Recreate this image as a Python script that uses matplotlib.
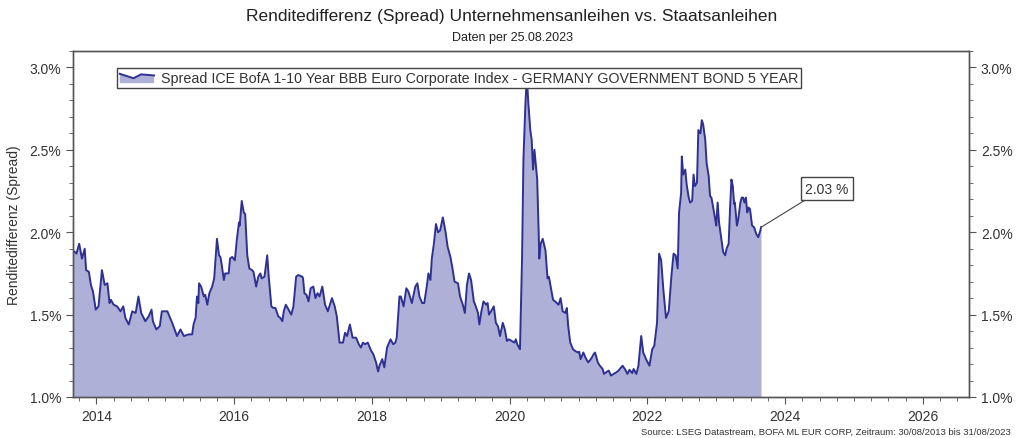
import matplotlib.pyplot as plt
from matplotlib.patches import Polygon
from matplotlib.lines import Line2D
from matplotlib.legend_handler import HandlerBase
from matplotlib.ticker import MultipleLocator, FuncFormatter

plt.rcParams['font.family'] = ['Liberation Sans', 'DejaVu Sans']
plt.rcParams['xtick.top'] = False

years = [
    2013.66, 2013.71, 2013.75, 2013.79, 2013.83, 2013.85, 2013.89, 2013.92, 2013.95, 2013.99,
    2014.03, 2014.08, 2014.12, 2014.16, 2014.19, 2014.21, 2014.25, 2014.30, 2014.35, 2014.39,
    2014.42, 2014.47, 2014.52, 2014.57, 2014.61, 2014.65, 2014.71, 2014.76, 2014.80, 2014.82,
    2014.87, 2014.92, 2014.95, 2015.03, 2015.06, 2015.10, 2015.17, 2015.22, 2015.27, 2015.34,
    2015.39, 2015.41, 2015.44, 2015.46, 2015.48, 2015.49, 2015.52, 2015.56, 2015.58, 2015.61,
    2015.64, 2015.68, 2015.71, 2015.75, 2015.78, 2015.80, 2015.82, 2015.85, 2015.87, 2015.92,
    2015.94, 2015.97, 2016.01, 2016.04, 2016.07, 2016.08, 2016.11, 2016.14, 2016.16, 2016.19,
    2016.22, 2016.26, 2016.28, 2016.32, 2016.35, 2016.38, 2016.40, 2016.44, 2016.48, 2016.50,
    2016.54, 2016.57, 2016.60, 2016.64, 2016.67, 2016.70, 2016.72, 2016.75, 2016.79, 2016.83,
    2016.86, 2016.90, 2016.93, 2016.99, 2017.00, 2017.02, 2017.05, 2017.08, 2017.11, 2017.15,
    2017.18, 2017.21, 2017.24, 2017.28, 2017.32, 2017.36, 2017.42, 2017.46, 2017.49, 2017.53,
    2017.58, 2017.61, 2017.64, 2017.68, 2017.72, 2017.77, 2017.81, 2017.84, 2017.87, 2017.90,
    2017.94, 2017.99, 2018.02, 2018.06, 2018.09, 2018.11, 2018.15, 2018.18, 2018.22, 2018.27,
    2018.31, 2018.34, 2018.36, 2018.40, 2018.42, 2018.46, 2018.50, 2018.53, 2018.58, 2018.63,
    2018.66, 2018.69, 2018.73, 2018.76, 2018.80, 2018.82, 2018.85, 2018.87, 2018.90, 2018.93,
    2018.96, 2018.99, 2019.03, 2019.07, 2019.10, 2019.14, 2019.17, 2019.20, 2019.25, 2019.28,
    2019.32, 2019.35, 2019.38, 2019.41, 2019.44, 2019.48, 2019.50, 2019.54, 2019.56, 2019.59,
    2019.62, 2019.66, 2019.68, 2019.70, 2019.73, 2019.77, 2019.80, 2019.83, 2019.86, 2019.90,
    2019.93, 2019.96, 2019.99, 2020.03, 2020.07, 2020.09, 2020.11, 2020.15, 2020.18, 2020.20,
    2020.23, 2020.25, 2020.27, 2020.30, 2020.32, 2020.34, 2020.36, 2020.40, 2020.42, 2020.43,
    2020.45, 2020.48, 2020.52, 2020.55, 2020.57, 2020.60, 2020.63, 2020.66, 2020.71, 2020.74,
    2020.77, 2020.81, 2020.83, 2020.85, 2020.88, 2020.92, 2020.95, 2020.99, 2021.01, 2021.03,
    2021.07, 2021.10, 2021.14, 2021.18, 2021.22, 2021.24, 2021.28, 2021.31, 2021.35, 2021.37,
    2021.40, 2021.44, 2021.47, 2021.51, 2021.55, 2021.58, 2021.62, 2021.64, 2021.68, 2021.71,
    2021.74, 2021.78, 2021.80, 2021.84, 2021.87, 2021.91, 2021.94, 2021.98, 2022.03, 2022.07,
    2022.10, 2022.14, 2022.16, 2022.17, 2022.20, 2022.23, 2022.27, 2022.31, 2022.35, 2022.38,
    2022.41, 2022.44, 2022.46, 2022.49, 2022.50, 2022.52, 2022.55, 2022.57, 2022.60, 2022.62,
    2022.65, 2022.67, 2022.69, 2022.72, 2022.74, 2022.77, 2022.79, 2022.81, 2022.84, 2022.86,
    2022.89, 2022.91, 2022.93, 2022.96, 2022.98, 2023.00, 2023.02, 2023.04, 2023.07, 2023.10,
    2023.13, 2023.15, 2023.18, 2023.20, 2023.22, 2023.24, 2023.26, 2023.27, 2023.30, 2023.32,
    2023.35, 2023.37, 2023.39, 2023.41, 2023.43, 2023.45, 2023.47, 2023.49, 2023.52, 2023.55,
    2023.58, 2023.61, 2023.64, 2023.65,
]

spread = [
    1.89, 1.87, 1.93, 1.84, 1.90, 1.77, 1.76, 1.68, 1.64, 1.53,
    1.55, 1.77, 1.68, 1.69, 1.57, 1.59, 1.56, 1.55, 1.52, 1.55,
    1.48, 1.44, 1.52, 1.51, 1.61, 1.51, 1.46, 1.49, 1.53, 1.46,
    1.41, 1.43, 1.52, 1.52, 1.49, 1.45, 1.37, 1.41, 1.37, 1.38,
    1.38, 1.44, 1.48, 1.61, 1.57, 1.69, 1.67, 1.61, 1.62, 1.56,
    1.63, 1.67, 1.72, 1.96, 1.86, 1.85, 1.80, 1.71, 1.75, 1.75,
    1.84, 1.85, 1.83, 1.96, 2.06, 2.04, 2.19, 2.12, 2.11, 1.86,
    1.78, 1.77, 1.76, 1.67, 1.73, 1.75, 1.72, 1.73, 1.86, 1.74,
    1.55, 1.54, 1.54, 1.49, 1.48, 1.46, 1.52, 1.56, 1.53, 1.50,
    1.55, 1.73, 1.74, 1.73, 1.72, 1.63, 1.62, 1.58, 1.66, 1.67,
    1.60, 1.63, 1.61, 1.67, 1.56, 1.52, 1.60, 1.55, 1.49, 1.33,
    1.33, 1.39, 1.37, 1.44, 1.36, 1.36, 1.32, 1.30, 1.33, 1.32,
    1.33, 1.28, 1.26, 1.21, 1.155, 1.19, 1.23, 1.18, 1.30, 1.35,
    1.32, 1.33, 1.36, 1.61, 1.61, 1.55, 1.66, 1.64, 1.57, 1.67,
    1.69, 1.61, 1.57, 1.57, 1.68, 1.75, 1.71, 1.84, 1.93, 2.05,
    2.00, 2.01, 2.09, 2.00, 1.91, 1.85, 1.78, 1.70, 1.69, 1.61,
    1.56, 1.51, 1.68, 1.75, 1.71, 1.58, 1.56, 1.51, 1.44, 1.52,
    1.58, 1.56, 1.57, 1.50, 1.52, 1.55, 1.45, 1.43, 1.37, 1.45,
    1.41, 1.34, 1.35, 1.34, 1.33, 1.35, 1.32, 1.29, 1.84, 2.44,
    2.79, 2.94, 2.79, 2.62, 2.56, 2.38, 2.50, 2.32, 2.02, 1.84,
    1.93, 1.96, 1.89, 1.72, 1.73, 1.66, 1.59, 1.58, 1.56, 1.60,
    1.52, 1.51, 1.54, 1.43, 1.33, 1.29, 1.28, 1.27, 1.275, 1.23,
    1.27, 1.24, 1.21, 1.23, 1.26, 1.27, 1.21, 1.19, 1.17, 1.14,
    1.15, 1.16, 1.13, 1.14, 1.15, 1.16, 1.18, 1.19, 1.165, 1.14,
    1.165, 1.145, 1.17, 1.14, 1.19, 1.37, 1.27, 1.23, 1.19, 1.29,
    1.31, 1.45, 1.74, 1.87, 1.83, 1.66, 1.48, 1.52, 1.74, 1.87,
    1.86, 1.78, 2.12, 2.24, 2.46, 2.35, 2.38, 2.29, 2.21, 2.18,
    2.19, 2.35, 2.28, 2.30, 2.62, 2.60, 2.68, 2.655, 2.56, 2.42,
    2.34, 2.22, 2.21, 2.14, 2.09, 2.04, 2.18, 2.06, 1.97, 1.88,
    1.86, 1.90, 1.93, 2.14, 2.32, 2.28, 2.17, 2.18, 2.04, 2.08,
    2.18, 2.21, 2.21, 2.18, 2.21, 2.12, 2.15, 2.14, 2.04, 2.03,
    1.99, 1.97, 2.01, 2.03,
]

series_label = 'Spread ICE BofA 1-10 Year BBB Euro Corporate Index - GERMANY GOVERNMENT BOND 5 YEAR'
line_color = '#2e3192'
fill_color = '#afb0d7'
text_color = '#333333'


class AreaIconHandler(HandlerBase):
    # small "area chart" glyph: filled shape with a line on its top edge
    def create_artists(self, legend, orig_handle, xdescent, ydescent, width, height, fontsize, trans):
        x0, y0 = -xdescent, -ydescent - 0.15 * height
        h = height * 1.1
        rel = [(0.0, 0.85), (0.4, 0.45), (0.62, 0.8), (1.0, 0.7)]
        top = [(x0 + fx * width, y0 + fy * h) for fx, fy in rel]
        poly = Polygon(top + [(x0 + width, y0), (x0, y0)], closed=True,
                       facecolor=fill_color, edgecolor='none', transform=trans)
        line = Line2D([p[0] for p in top], [p[1] for p in top], color=line_color,
                      linewidth=1.4, transform=trans)
        return [poly, line]


fig = plt.figure(figsize=(10.24, 4.39), dpi=100)
ax = fig.add_axes([0.0713, 0.0934, 0.875, 0.7882])

ax.fill_between(years, spread, 1.0, color=fill_color, linewidth=0)
ax.plot(years, spread, color=line_color, linewidth=1.4)

ax.set_xlim(2013.66, 2026.67)
ax.set_ylim(1.0, 3.1)

ax.xaxis.set_major_locator(MultipleLocator(2))
ax.xaxis.set_minor_locator(MultipleLocator(0.25))
ax.xaxis.set_major_formatter(FuncFormatter(lambda v, p: '%d' % round(v)))
ax.yaxis.set_major_locator(MultipleLocator(0.5))
ax.yaxis.set_minor_locator(MultipleLocator(0.1))
pct = FuncFormatter(lambda v, p: '%.1f%%' % v)
ax.yaxis.set_major_formatter(pct)

ax2 = ax.twinx()
ax2.set_ylim(ax.get_ylim())
ax2.yaxis.set_major_locator(MultipleLocator(0.5))
ax2.yaxis.set_minor_locator(MultipleLocator(0.1))
ax2.yaxis.set_major_formatter(pct)

for a in (ax, ax2):
    for s in a.spines.values():
        s.set_color('#555555')
        s.set_linewidth(1.0)
    a.tick_params(which='major', direction='out', length=5, color='#555555',
                  labelsize=10, labelcolor=text_color)
    a.tick_params(which='minor', direction='out', length=3, color='#555555')
ax.tick_params(which='both', top=False, right=False)
ax2.tick_params(which='both', top=False, left=False, labeltop=False)
ax2.xaxis.set_visible(False)

ax.set_ylabel('Renditedifferenz (Spread)', fontsize=10, color=text_color, labelpad=6)

leg = ax.legend([object()], [series_label], handler_map={object: AreaIconHandler()},
                loc='upper left', bbox_to_anchor=(0.041, 0.972),
                fontsize=10.3, frameon=True, fancybox=False, framealpha=1,
                edgecolor='#444444', borderpad=0.2, handlelength=2.4, handletextpad=0.5)
leg.get_frame().set_linewidth(1.0)
for t in leg.get_texts():
    t.set_color(text_color)

ax.annotate('%.2f %%' % spread[-1], xy=(years[-1], spread[-1]), xytext=(2024.61, 2.265),
            fontsize=10, color=text_color, ha='center', va='center',
            bbox=dict(boxstyle='square,pad=0.3', facecolor='white', edgecolor='#444444'),
            arrowprops=dict(arrowstyle='-', color='#444444', linewidth=0.8,
                            relpos=(0.16, 0.0), shrinkA=0, shrinkB=0))

fig.text(0.5, 1 - 17 / 439, 'Renditedifferenz (Spread) Unternehmensanleihen vs. Staatsanleihen',
         ha='center', va='center', fontsize=12.5, color='#222222')
fig.text(0.5, 1 - 38 / 439, 'Daten per 25.08.2023', ha='center', va='center',
         fontsize=9, color='#222222')
fig.text(0.987, 1 - 432 / 439,
         'Source: LSEG Datastream, BOFA ML EUR CORP, Zeitraum: 30/08/2013 bis 31/08/2023',
         ha='right', va='center', fontsize=6.8, color=text_color)

fig.savefig('out.png', dpi=100)
